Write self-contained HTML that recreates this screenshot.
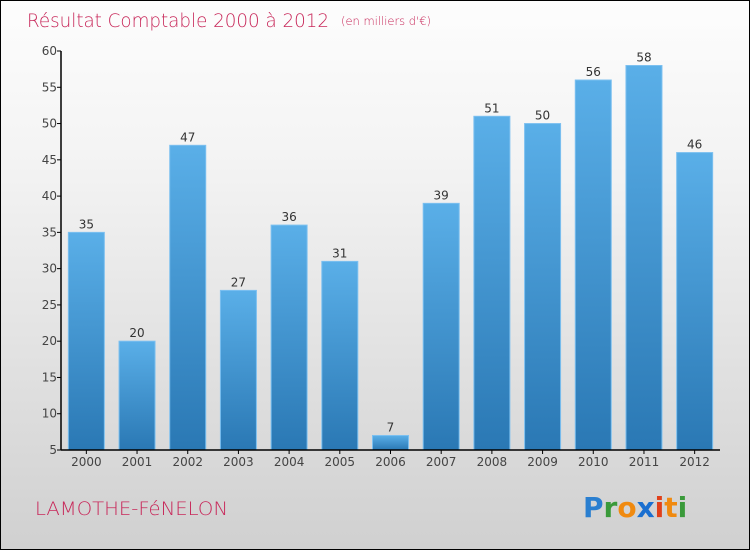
<!DOCTYPE html>
<html><head><meta charset="utf-8"><style>
body{margin:0;}
#chart{position:relative;width:748px;height:548px;border:1px solid #000;background:linear-gradient(#fdfdfd,#f3f3f3 30%,#d0d0d0);font-family:"DejaVu Sans","Liberation Sans",sans-serif;overflow:hidden}
svg{position:absolute;left:0;top:0}
</style></head><body>
<div id="chart">
<svg id="svg" width="748" height="548">
<defs><linearGradient id="bg" x1="0" y1="0" x2="0" y2="1"><stop offset="0" stop-color="#5aafe8"/><stop offset="1" stop-color="#2a78b4"/></linearGradient></defs>
<text x="26" y="26" font-size="18.5" fill="#c8285a" font-family="DejaVu Sans,sans-serif" font-weight="200" textLength="302" lengthAdjust="spacingAndGlyphs">Résultat Comptable 2000 à 2012</text>
<text x="340" y="24" font-size="11.5" fill="#c8285a" font-weight="200" textLength="90" lengthAdjust="spacingAndGlyphs">(en milliers d'€)</text>
<text x="34" y="514" font-size="19" fill="#c8285a" font-weight="200" textLength="193" lengthAdjust="spacingAndGlyphs">LAMOTHE-FéNELON</text>
<g font-size="28" font-family="DejaVu Sans,sans-serif" font-weight="bold"><text x="582" y="516"><tspan fill="#2a7fd0">P</tspan><tspan fill="#3a9a3a">r</tspan><tspan fill="#f08a10">o</tspan><tspan fill="#1a6fd0">x</tspan><tspan fill="#e0401a">i</tspan><tspan fill="#f08a10">t</tspan><tspan fill="#3a9a3a">i</tspan></text></g>
<g id="marks"></g>
</svg>
</div>
<script>
const categories=["2000","2001","2002","2003","2004","2005","2006","2007","2008","2009","2010","2011","2012"];
const values=[35,20,47,27,36,31,7,39,51,50,56,58,46];
const yTicks=[5,10,15,20,25,30,35,40,45,50,55,60];
const NS="http://www.w3.org/2000/svg";
const g=document.getElementById('marks');
const x0=60,x1=719,yMin=5,yMax=60,yTop=50,yBot=449;
const y=v=>yBot-(v-yMin)/(yMax-yMin)*(yBot-yTop);
const step=(x1-x0)/categories.length;
const xc=i=>x0+step*(i+0.5);
function mk(t,a){const e=document.createElementNS(NS,t);for(const k in a)e.setAttribute(k,a[k]);g.appendChild(e);return e;}
yTicks.forEach(v=>{
 const l=mk('line',{x1:x0-4,x2:x0,y1:y(v),y2:y(v),stroke:'#000'});
 
 
 const t=mk('text',{x:x0-4,y:y(v)+4,'text-anchor':'end','font-size':12,fill:'#444'});
 t.textContent=v;
 
 
});
values.forEach((v,i)=>{
 const w=36,cx=xc(i);
 const r=mk('rect',{x:cx-w/2,y:y(v),width:w,height:yBot-y(v),fill:'url(#bg)',stroke:'#7cc0f0','stroke-width':1});
 
 
 const t=mk('text',{x:cx,y:y(v)-4,'text-anchor':'middle','font-size':12,fill:'#333'});
 t.textContent=v;
 
 
 const tk=mk('line',{x1:cx,x2:cx,y1:yBot,y2:yBot+4,stroke:'#000'});
 
 
 const c=mk('text',{x:cx,y:yBot+16,'text-anchor':'middle','font-size':12,fill:'#444'});
 c.textContent=categories[i];
 
 
});
const ya=mk('line',{x1:x0,x2:x0,y1:yTop,y2:yBot,stroke:'#000','stroke-width':1.5});


const xa=mk('line',{x1:x0,x2:x1,y1:yBot,y2:yBot,stroke:'#000','stroke-width':1.5});


</script>
</body></html>
